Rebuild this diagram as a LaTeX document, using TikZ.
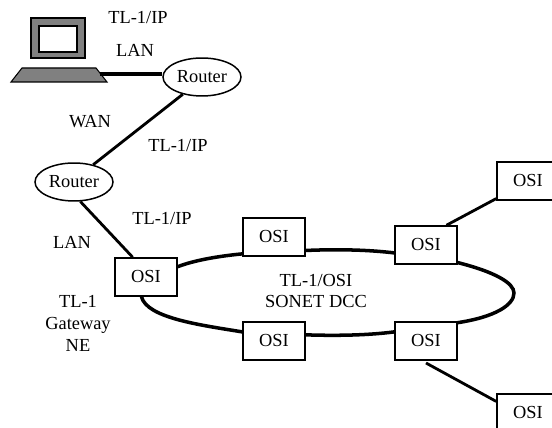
\documentclass[tikz,border=0pt]{standalone}
\usepackage{fontspec}
\setmainfont{Liberation Serif}
\tikzset{
	box/.style={draw, fill=white, line width=0.85pt, minimum width=1.24cm, minimum height=0.76cm, inner sep=0pt},
	router/.style={draw, fill=white, ellipse, line width=0.85pt, minimum width=1.56cm, minimum height=0.76cm, inner sep=0pt},
	label/.style={align=center, inner sep=0pt, font=\fontsize{10.47}{12.5}\selectfont},
	link/.style={line width=1.6pt},
	ring/.style={line width=2pt}
}
\usetikzlibrary{shapes.geometric}
\begin{document}
\begin{tikzpicture}[x=0.02cm, y=-0.02cm]
	\useasboundingbox (0,0) rectangle (552,428);
	\clip (0,0) rectangle (552,428);
	% terminal
	\draw[line width=0.85pt, fill=gray] (31,18) rectangle (85,58);
	\draw[line width=1.2pt, fill=white] (39,26) rectangle (77,52);
	\draw[line width=0.6pt, fill=gray] (11,82) -- (107,82) -- (96,68) -- (22,68) -- cycle;
	\coordinate (terminal) at (100,74);
	% nodes
	\node[router, label] (routera) at (202,77) {Router};
	\node[router, label] (routerb) at (74,182) {Router};
	\node[box, label] (gateway) at (146,277) {OSI};
	\node[box, label] (osia) at (274,237) {OSI};
	\node[box, label] (osib) at (426,245) {OSI};
	\node[box, label] (osic) at (274,341) {OSI};
	\node[box, label] (osid) at (426,341) {OSI};
	\node[box, label] (osie) at (528,181) {OSI};
	\node[box, label] (osif) at (528,413) {OSI};
	% links
	\draw[link, line width=2pt] (terminal) -- (routera.west |- terminal);
	\draw[link] (routera.222) -- (routerb.42);
	\draw[link] (routerb.-72) -- (gateway.124);
	\draw[link] (osib.44) -- (osie.209);
	\coordinate (osidfoot) at (426,363);
	\draw[link] (osidfoot) -- (osif.160);
	% ring
	\draw[ring] (gateway.18) .. controls (195,260) and (220,256) .. (osia.208);
	\draw[ring] (osia.-23) .. controls (340,249) and (370,250) .. (osib.194);
	\draw[ring] (osib.-29) .. controls (495,272) and (514,283) .. (514,293)
		.. controls (514,305) and (495,317) .. (osid.30);
	\draw[ring] (osid.164) .. controls (370,335) and (340,336) .. (osic.11);
	\draw[ring] (osic.164) .. controls (200,325) and (147,318) .. (gateway.-103);
	% labels
	\node[label] (iptop) at (138,18) {TL-1/IP};
	\node[label] (lantop) at (135,50) {LAN};
	\node[label] (wan) at (90,122) {WAN};
	\node[label] (ipwan) at (178,146) {TL-1/IP};
	\node[label] (iplow) at (162,219) {TL-1/IP};
	\node[label] (lanlow) at (72,242) {LAN};
	\node[label] (gwtext) at (78,323) {TL-1\\Gateway\\NE};
	\node[label] (dcc) at (316,291) {TL-1/OSI\\SONET DCC};
\end{tikzpicture}
\end{document}
